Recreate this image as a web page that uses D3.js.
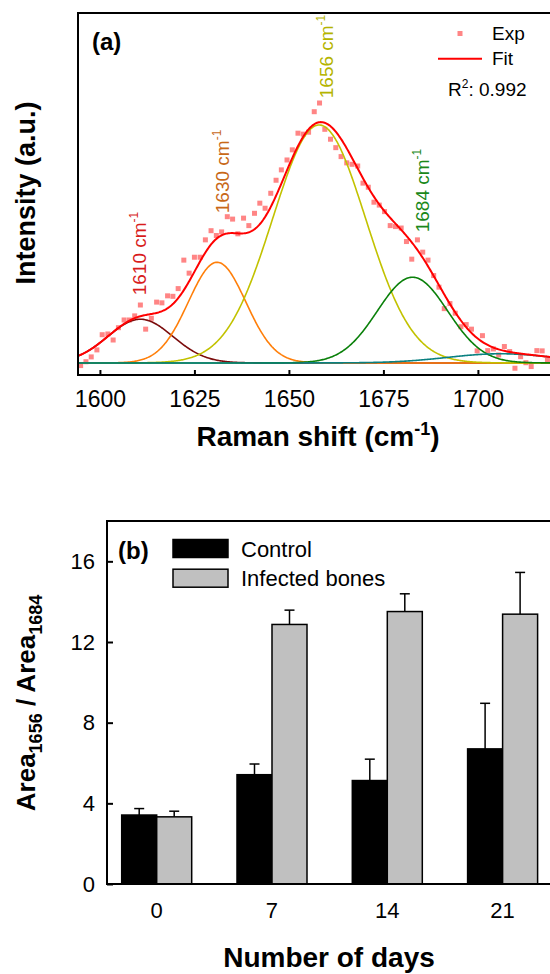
<!DOCTYPE html>
<html>
<head>
<meta charset="utf-8">
<script src="https://cdn.jsdelivr.net/npm/d3@7"></script>
<style>
  html, body { margin: 0; padding: 0; background: #fff; }
  svg { display: block; font-family: "Liberation Sans", Arial, sans-serif; }
</style>
</head>
<body>
<script>
// ---- panel (a): Raman spectrum, amide I band ----
const ramanShift = [
  1594.9, 1596.3, 1597.7, 1599.2, 1600.6, 1602.1, 1603.5, 1604.9, 1606.4, 1607.8,
  1609.2, 1610.7, 1612.1, 1613.6, 1615.0, 1616.4, 1617.9, 1619.3, 1620.7, 1622.2,
  1623.6, 1625.0, 1626.5, 1627.9, 1629.4, 1630.8, 1632.2, 1633.7, 1635.1, 1636.5,
  1638.0, 1639.4, 1640.9, 1642.3, 1643.7, 1645.2, 1646.6, 1648.0, 1649.5, 1650.9,
  1652.4, 1653.8, 1655.2, 1656.7, 1658.1, 1659.5, 1661.0, 1662.4, 1663.8, 1665.3,
  1666.7, 1668.2, 1669.6, 1671.0, 1672.5, 1673.9, 1675.3, 1676.8, 1678.2, 1679.7,
  1681.1, 1682.5, 1684.0, 1685.4, 1686.8, 1688.3, 1689.7, 1691.1, 1692.6, 1694.0,
  1695.5, 1696.9, 1698.3, 1699.8, 1701.2, 1702.6, 1704.1, 1705.5, 1707.0, 1708.4,
  1709.8, 1711.3, 1712.7, 1714.1, 1715.6, 1717.0, 1718.4
];
const intensity = [
  -0.011, 0.005, 0.025, 0.054, 0.117, 0.120, 0.095, 0.146, 0.178, 0.178,
  0.195, 0.240, 0.140, 0.185, 0.252, 0.249, 0.278, 0.276, 0.308, 0.426,
  0.372, 0.438, 0.438, 0.510, 0.548, 0.528, 0.543, 0.606, 0.596, 0.535,
  0.600, 0.569, 0.620, 0.662, 0.641, 0.703, 0.757, 0.800, 0.841, 0.883,
  0.952, 0.948, 0.956, 1.041, 1.077, 0.968, 0.927, 0.892, 0.855, 0.829,
  0.823, 0.816, 0.745, 0.728, 0.666, 0.654, 0.627, 0.569, 0.565, 0.559,
  0.503, 0.430, 0.510, 0.459, 0.426, 0.362, 0.314, 0.225, 0.246, 0.206,
  0.150, 0.159, 0.140, 0.050, 0.113, 0.051, 0.058, 0.033, 0.068, 0.047,
  -0.022, 0.026, 0.001, -0.015, 0.051, 0.050, 0.012
];

// fitted gaussian bands (centre, height, sigma)
const peakCenters = [1610.7, 1631.0, 1658.0, 1682.7, 1706.0];
const peakHeights = [0.181, 0.417, 0.986, 0.355, 0.038];
const peakSigmas  = [8.6, 7.6, 12.3, 9.3, 14.0];
const peakLabels  = ["1610", "1630", "1656", "1684", null];
const ramanTicks  = [1600, 1625, 1650, 1675, 1700];
const rSquared = "0.992";

// ---- panel (b): area ratio ----
const days = ["0", "7", "14", "21"];
const controlMean  = [3.42, 5.42, 5.13, 6.70];
const controlErr   = [0.32, 0.53, 1.06, 2.26];
const infectedMean = [3.33, 12.87, 13.51, 13.38];
const infectedErr  = [0.28, 0.71, 0.88, 2.07];
const ratioTicks = [0, 4, 8, 12, 16];

// styles
const curveColors = ["#7b0c0c", "#ff7f0a", "#c2c200", "#0a800a", "#0a8080"];
const labelColors = ["#d81c1c", "#c86818", "#b4b400", "#1a881a"];
const labelOffsets = [[6, -21], [12, -25], [14, -24], [16, -11]];
const fitColor = "#ff0000";
const expColor = "#ff8585";

const W = 550, H = 974;
const svg = d3.select("body").append("svg").attr("width", W).attr("height", H);

// ================= panel (a) =================
const a = { left: 78, top: 13, right: 553.5, bottom: 375 };
const xR = d3.scaleLinear().domain([1594.2, 1720]).range([a.left, a.right]);
const yR = d3.scaleLinear().domain([-0.05, 1.45]).range([a.bottom, a.top]);

const gauss = (w, i) => peakHeights[i] * Math.exp(-((w - peakCenters[i]) ** 2) / (2 * peakSigmas[i] ** 2));
const grid = d3.range(1594.2, 1720.01, 0.25);
const fitAt = w => d3.sum(peakCenters, (c, i) => gauss(w, i));

const gA = svg.append("g");

// experimental points
gA.append("g").selectAll("rect")
  .data(ramanShift)
  .join("rect")
  .attr("x", (d) => xR(d) - 2.5)
  .attr("y", (d, i) => yR(intensity[i]) - 2.5)
  .attr("width", 5).attr("height", 5)
  .attr("fill", expColor);

const line = d3.line().x(d => xR(d[0])).y(d => yR(d[1]));

// component bands
[0, 1, 2, 3, 4].forEach(i => {
  gA.append("path")
    .datum(grid.map(w => [w, gauss(w, i)]))
    .attr("fill", "none")
    .attr("stroke", curveColors[i])
    .attr("stroke-width", 1.6)
    .attr("d", line);
});

// cumulative fit
gA.append("path")
  .datum(grid.map(w => [w, fitAt(w)]))
  .attr("fill", "none")
  .attr("stroke", fitColor)
  .attr("stroke-width", 2)
  .attr("d", line);

// band labels
peakLabels.forEach((lab, i) => {
  if (!lab) return;
  const px = xR(peakCenters[i]) + labelOffsets[i][0];
  const py = yR(fitAt(peakCenters[i])) + labelOffsets[i][1];
  const t = gA.append("text")
    .attr("transform", `translate(${px},${py}) rotate(-90)`)
    .attr("fill", labelColors[i])
    .attr("font-size", 19);
  t.append("tspan").text(lab + " cm");
  t.append("tspan").attr("font-size", 12).attr("dy", -8).text("-1");
});

// frame
gA.append("rect")
  .attr("x", a.left).attr("y", a.top)
  .attr("width", a.right - a.left).attr("height", a.bottom - a.top)
  .attr("fill", "none").attr("stroke", "#000").attr("stroke-width", 2);

// x axis
const axA = gA.append("g")
  .attr("transform", `translate(0,${a.bottom})`)
  .call(d3.axisBottom(xR).tickValues(ramanTicks).tickFormat(d3.format("d")).tickSize(-5).tickPadding(16));
axA.select(".domain").remove();
axA.selectAll("line").attr("stroke-width", 2);
axA.selectAll("text").attr("font-size", 23).attr("fill", "#000")
  .attr("font-family", "Liberation Sans, Arial, sans-serif");

// axis titles
const xtA = gA.append("text")
  .attr("x", 318).attr("y", 446)
  .attr("text-anchor", "middle")
  .attr("font-size", 28).attr("font-weight", "bold");
xtA.append("tspan").text("Raman shift (cm");
xtA.append("tspan").attr("font-size", 18).attr("dy", -11).text("-1");
xtA.append("tspan").attr("dy", 11).text(")");

gA.append("text")
  .attr("transform", "translate(35,193) rotate(-90)")
  .attr("text-anchor", "middle")
  .attr("font-size", 27).attr("font-weight", "bold")
  .text("Intensity (a.u.)");

gA.append("text").attr("x", 92).attr("y", 50)
  .attr("font-size", 24).attr("font-weight", "bold").text("(a)");

// legend (a)
gA.append("rect").attr("x", 457.5).attr("y", 31).attr("width", 5).attr("height", 5).attr("fill", expColor);
gA.append("text").attr("x", 492).attr("y", 40).attr("font-size", 19).text("Exp");
gA.append("line").attr("x1", 438).attr("x2", 482).attr("y1", 58.7).attr("y2", 58.7)
  .attr("stroke", fitColor).attr("stroke-width", 2);
gA.append("text").attr("x", 492).attr("y", 65).attr("font-size", 19).text("Fit");
const r2 = gA.append("text").attr("x", 448).attr("y", 96).attr("font-size", 19);
r2.append("tspan").text("R");
r2.append("tspan").attr("font-size", 12).attr("dy", -8).text("2");
r2.append("tspan").attr("dy", 8).text(": " + rSquared);

// ================= panel (b) =================
const b = { left: 107, top: 521, right: 552.3, bottom: 884 };
const xB = d3.scalePoint().domain(days).range([b.left, b.right]).padding(0.431);
const yB = d3.scaleLinear().domain([0, 18]).range([b.bottom, b.top]);
const barW = 35;

const gB = svg.append("g");

const series = [
  { mean: controlMean, err: controlErr, fill: "#000", dx: -barW },
  { mean: infectedMean, err: infectedErr, fill: "#c0c0c0", dx: 0 }
];

series.forEach(s => {
  // error bars (upper only)
  const eb = gB.append("g").selectAll("g").data(days).join("g");
  eb.append("line")
    .attr("x1", d => xB(d) + s.dx + barW / 2).attr("x2", d => xB(d) + s.dx + barW / 2)
    .attr("y1", (d, i) => yB(s.mean[i])).attr("y2", (d, i) => yB(s.mean[i] + s.err[i]))
    .attr("stroke", "#000").attr("stroke-width", 1.5);
  eb.append("line")
    .attr("x1", d => xB(d) + s.dx + barW / 2 - 5).attr("x2", d => xB(d) + s.dx + barW / 2 + 5)
    .attr("y1", (d, i) => yB(s.mean[i] + s.err[i])).attr("y2", (d, i) => yB(s.mean[i] + s.err[i]))
    .attr("stroke", "#000").attr("stroke-width", 1.5);
  gB.append("g").selectAll("rect").data(days).join("rect")
    .attr("x", d => xB(d) + s.dx)
    .attr("y", (d, i) => yB(s.mean[i]))
    .attr("width", barW)
    .attr("height", (d, i) => yB(0) - yB(s.mean[i]))
    .attr("fill", s.fill).attr("stroke", "#000").attr("stroke-width", 1.5);
});

gB.append("rect")
  .attr("x", b.left).attr("y", b.top)
  .attr("width", b.right - b.left).attr("height", b.bottom - b.top)
  .attr("fill", "none").attr("stroke", "#000").attr("stroke-width", 2);

const ayB = gB.append("g")
  .attr("transform", `translate(${b.left},0)`)
  .call(d3.axisLeft(yB).tickValues(ratioTicks).tickSize(-6).tickPadding(12));
ayB.select(".domain").remove();
ayB.selectAll("line").attr("stroke-width", 2);
ayB.selectAll("text").attr("font-size", 22).attr("fill", "#000")
  .attr("font-family", "Liberation Sans, Arial, sans-serif");

gB.append("g").selectAll("text").data(days).join("text")
  .attr("x", d => xB(d)).attr("y", 918)
  .attr("text-anchor", "middle").attr("font-size", 22)
  .text(d => d);

gB.append("text").attr("x", 329).attr("y", 967)
  .attr("text-anchor", "middle").attr("font-size", 28).attr("font-weight", "bold")
  .text("Number of days");

const ytB = gB.append("text")
  .attr("transform", "translate(35,703) rotate(-90)")
  .attr("text-anchor", "middle")
  .attr("font-size", 26).attr("font-weight", "bold");
ytB.append("tspan").text("Area");
ytB.append("tspan").attr("font-size", 18).attr("dy", 7).text("1656");
ytB.append("tspan").attr("dy", -7).text(" / Area");
ytB.append("tspan").attr("font-size", 18).attr("dy", 7).text("1684");

gB.append("text").attr("x", 118).attr("y", 559)
  .attr("font-size", 24).attr("font-weight", "bold").text("(b)");

// legend (b)
const legB = [["Control", "#000"], ["Infected bones", "#c0c0c0"]];
legB.forEach((l, i) => {
  gB.append("rect").attr("x", 173).attr("y", 539.5 + i * 29.7).attr("width", 55).attr("height", 18)
    .attr("fill", l[1]).attr("stroke", "#000").attr("stroke-width", 1.5);
  gB.append("text").attr("x", 241).attr("y", 556.5 + i * 29.7).attr("font-size", 22).text(l[0]);
});
</script>
</body>
</html>
